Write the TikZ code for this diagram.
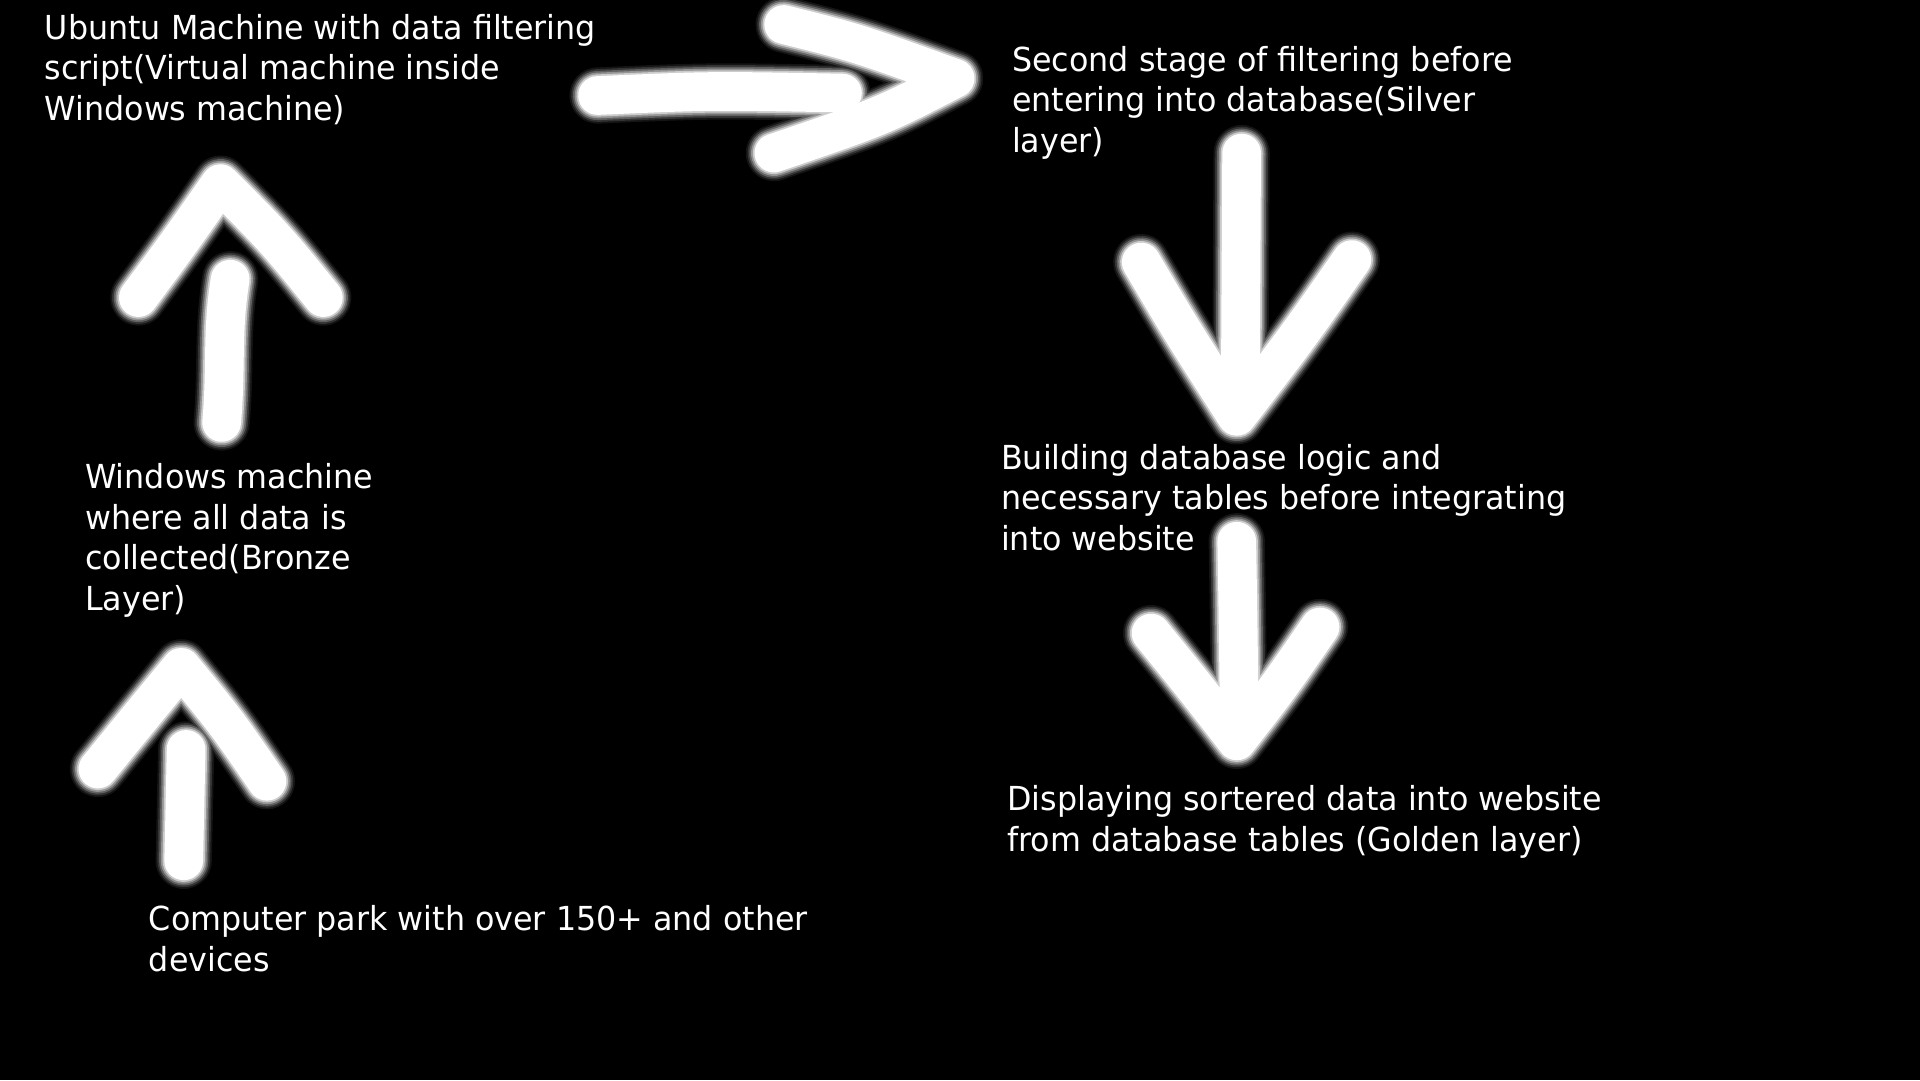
\documentclass[tikz,border=0pt]{standalone}
\usepackage{fontspec}
\setmainfont[FakeStretch=0.96]{DejaVu Sans}
\begin{document}
\begin{tikzpicture}[x=0.012245cm,y=-0.012245cm,
  lbl/.style={anchor=north west,inner sep=0pt,align=left,text=white,
    font=\fontsize{9.4pt}{11.55pt}\selectfont},
  brush/.style n args={2}{draw=white!#2!black,line width=#1,line cap=round,line join=round},
]
\fill[black] (0,0) rectangle (1568,882);
\useasboundingbox (0,0) rectangle (1568,882);

\node[lbl] (ubuntu) at (36,11) {Ubuntu Machine with data filtering\\script(Virtual machine inside\\Windows machine)};
\node[lbl] (silver) at (826,37) {Second stage of filtering before\\entering into database(Silver\\layer)};
\node[lbl] (bronze) at (69,378) {Windows machine\\where all data is\\collected(Bronze\\Layer)};
\node[lbl] (logic) at (817,362) {Building database logic and\\necessary tables before integrating\\into website};
\node[lbl] (golden) at (822,641) {Displaying sortered data into website\\from database tables (Golden layer)};
\node[lbl] (park) at (121,739) {Computer park with over 150+ and other\\devices};

% hand-drawn arrow strokes with soft edges
\foreach \w/\c in {16pt/8,15pt/20,14pt/38,13pt/58,12pt/80,11pt/100}{
  % park -> bronze
  \draw[brush={\w}{\c}] (150,703) .. controls (151,660) .. (152,612);
  \draw[brush={\w}{\c}] (80,628) .. controls (115,585) .. (148,545) .. controls (185,590) .. (218,638);
  % bronze -> ubuntu
  \draw[brush={\w}{\c}] (181,345) .. controls (185,300) and (181,270) .. (188,228);
  \draw[brush={\w}{\c}] (113,243) .. controls (145,200) .. (180,150) .. controls (225,195) .. (264,243);
  % ubuntu -> silver
  \draw[brush={\w}{\c}] (488,78) .. controls (580,74) .. (688,76);
  \draw[brush={\w}{\c}] (640,20) .. controls (700,35) .. (780,64) .. controls (720,95) .. (632,125);
  % silver -> logic
  \draw[brush={\w}{\c}] (1014,125) -- (1013,300);
  \draw[brush={\w}{\c}] (932,214) .. controls (965,270) .. (1010,340) .. controls (1060,275) .. (1104,212);
  % logic -> golden
  \draw[brush={\w}{\c}] (1010,442) .. controls (1011,500) .. (1012,580);
  \draw[brush={\w}{\c}] (940,517) .. controls (975,560) .. (1010,605) .. controls (1045,560) .. (1078,512);
}
\end{tikzpicture}
\end{document}
